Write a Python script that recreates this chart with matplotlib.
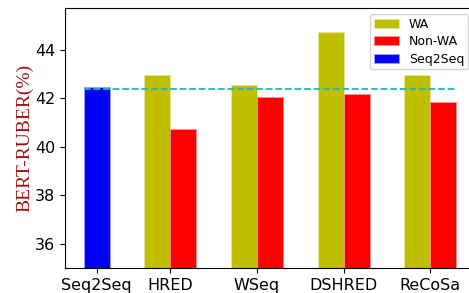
import matplotlib

matplotlib.use('agg')
import matplotlib.pyplot as plt
import numpy as np

models = ['HRED', 'WSeq', 'DSHRED', 'ReCoSa']
wa = [42.97, 42.56, 44.71, 42.97]
non_wa = [40.74, 42.06, 42.16, 41.84]
seq2seq = 42.46
baseline = 42.38
tick_labels = ['Seq2Seq'] + models

fig = plt.figure(figsize=(4.69, 2.93), dpi=100)
ax = fig.add_axes([0.1386, 0.0853, 1.0128 - 0.1386, 0.9717 - 0.0853])

w = 0.3
x = np.arange(1, len(models) + 1)
ax.bar(x - w / 2, wa, w, color='y', edgecolor='#e6e6a0', linewidth=0.6, label='WA')
ax.bar(x + w / 2, non_wa, w, color='r', edgecolor='#ff9090', linewidth=0.6, label='Non-WA')
ax.bar([0.15], [seq2seq], w, color='b', edgecolor='#a0a0ff', linewidth=0.6, label='Seq2Seq')
ax.hlines(baseline, 0, 4.3, colors='#20b8b8', linestyles='--', linewidth=1.3)

ax.set_xticks([0.15] + list(x))
ax.set_xticklabels(tick_labels, fontsize=11.5)
ax.set_yticks([36, 38, 40, 42, 44])
ax.tick_params(axis='y', labelsize=11.5)
ax.set_xlim(-0.215, 4.515)
ax.set_ylim(35, 45.7)
ax.set_ylabel('BERT-RUBER(%)', family='Liberation Serif', color='#a01010',
              fontsize=14, labelpad=1)
ax.legend(loc='upper right', fontsize=9, bbox_to_anchor=(0.983, 0.978),
          borderaxespad=0, labelspacing=0.35, borderpad=0.3)

fig.savefig('out.png', dpi=100)
